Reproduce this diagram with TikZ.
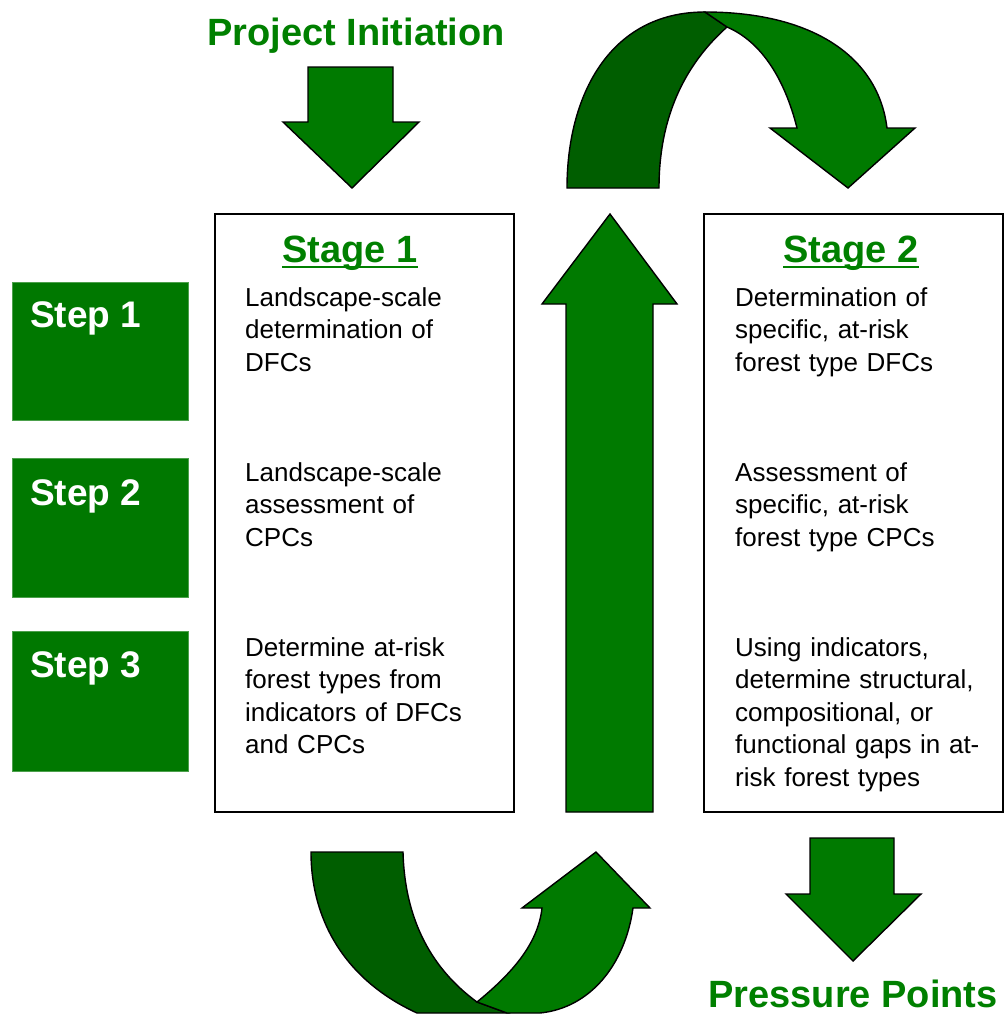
\documentclass[tikz,border=0pt]{standalone}
\usepackage{fontspec}
\setmainfont{Liberation Sans}
\begin{document}
\begin{tikzpicture}[x=1pt,y=-1pt,
  blockarrow/.style={fill=arrowgreen, draw=black, line width=1.4pt, line join=miter},
  backarrow/.style={fill=darkgreen, draw=black, line width=1.4pt, line join=miter},
  stepbox/.style={fill=stepgreen, draw=stepgreen!70!white, line width=0.6pt},
  stagebox/.style={draw=black, line width=1.5pt, fill=white},
  steplabel/.style={anchor=base west, inner sep=0pt, text=white, font=\bfseries\fontsize{37}{40}\selectfont},
  stagehead/.style={anchor=base, inner sep=0pt, text=titlegreen, font=\bfseries\fontsize{38}{40}\selectfont},
  bodytext/.style={anchor=base west, inner sep=0pt, align=left, text width=265pt, font=\fontsize{26}{32.5}\selectfont},
  bigtitle/.style={anchor=base, inner sep=0pt, text=titlegreen, font=\bfseries\fontsize{38}{40}\selectfont}
]
\definecolor{arrowgreen}{RGB}{0,122,0}
\definecolor{darkgreen}{RGB}{0,94,0}
\definecolor{stepgreen}{RGB}{0,120,0}
\definecolor{titlegreen}{RGB}{0,128,0}
\useasboundingbox (0,0) rectangle (1007,1015);
\fill[white] (0,0) rectangle (1007,1015);

% titles
\node[bigtitle] (pinit) at (356,45) {Project Initiation};
\node[bigtitle] (ppts) at (853,1007) {Pressure Points};

% top-left down arrow
\draw[blockarrow] (308,67) -- (393,67) -- (393,122) -- (419,122) -- (352,188) -- (283,122) -- (308,122) -- cycle;

% stage boxes
\draw[stagebox] (215,214) rectangle (514,812);
\draw[stagebox] (704,214) rectangle (1003,812);

% step boxes
\draw[stepbox] (12,282) rectangle (188,420);
\draw[stepbox] (12,458) rectangle (188,597);
\draw[stepbox] (12,631) rectangle (188,771);
\node[steplabel] (step1) at (30,327) {Step 1};
\node[steplabel] (step2) at (30,505) {Step 2};
\node[steplabel] (step3) at (30,677) {Step 3};

% stage headers
\node[stagehead] (s1h) at (350,262) {Stage 1};
\draw[titlegreen, line width=2pt] ([yshift=-5pt]s1h.base west) -- ([yshift=-5pt]s1h.base east);
\node[stagehead] (s2h) at (851,262) {Stage 2};
\draw[titlegreen, line width=2pt] ([yshift=-5pt]s2h.base west) -- ([yshift=-5pt]s2h.base east);

% stage 1 texts
\node[bodytext] (a1) at (245,306) {Landscape-scale\\determination of\\DFCs};
\node[bodytext] (a2) at (245,481) {Landscape-scale\\assessment of\\CPCs};
\node[bodytext] (a3) at (245,656) {Determine at-risk\\forest types from\\indicators of DFCs\\and CPCs};
% stage 2 texts
\node[bodytext] (b1) at (735,306) {Determination of\\specific, at-risk\\forest type DFCs};
\node[bodytext] (b2) at (735,481) {Assessment of\\specific, at-risk\\forest type CPCs};
\node[bodytext] (b3) at (735,656) {Using indicators,\\determine structural,\\compositional, or\\functional gaps in at-\\risk forest types};

% middle up arrow
\draw[blockarrow] (566,812) -- (566,304) -- (542,304) -- (610,214) -- (677,304) -- (653,304) -- (653,812) -- cycle;

% bottom-right down arrow
\draw[blockarrow] (810,838) -- (894,838) -- (894,894) -- (921,894) -- (853,961) -- (786,894) -- (810,894) -- cycle;

% top curved arrow: back part
\draw[backarrow] (567,188) .. controls (567,95) and (610,12) .. (705,12)
  -- (727,27) .. controls (690,60) and (659,110) .. (659,188) -- cycle;
% top curved arrow: front part
\draw[blockarrow] (705,12) .. controls (810,12) and (878,55) .. (887,128)
  -- (915,128) -- (848,188) -- (770,128) -- (797,128)
  .. controls (785,80) and (762,42) .. (727,27) -- cycle;

% bottom curved arrow: back part
\draw[backarrow] (311,852) -- (403,852) .. controls (405,930) and (440,975) .. (477,1002)
  -- (507,1013) -- (417,1013) .. controls (345,980) and (311,920) .. (311,852) -- cycle;
% bottom curved arrow: front part
\draw[blockarrow] (477,1002) .. controls (510,975) and (538,945) .. (542,908)
  -- (522,908) -- (596,852) -- (650,908) -- (633,908)
  .. controls (625,965) and (590,1008) .. (540,1013) -- (507,1013) -- cycle;
\end{tikzpicture}
\end{document}
